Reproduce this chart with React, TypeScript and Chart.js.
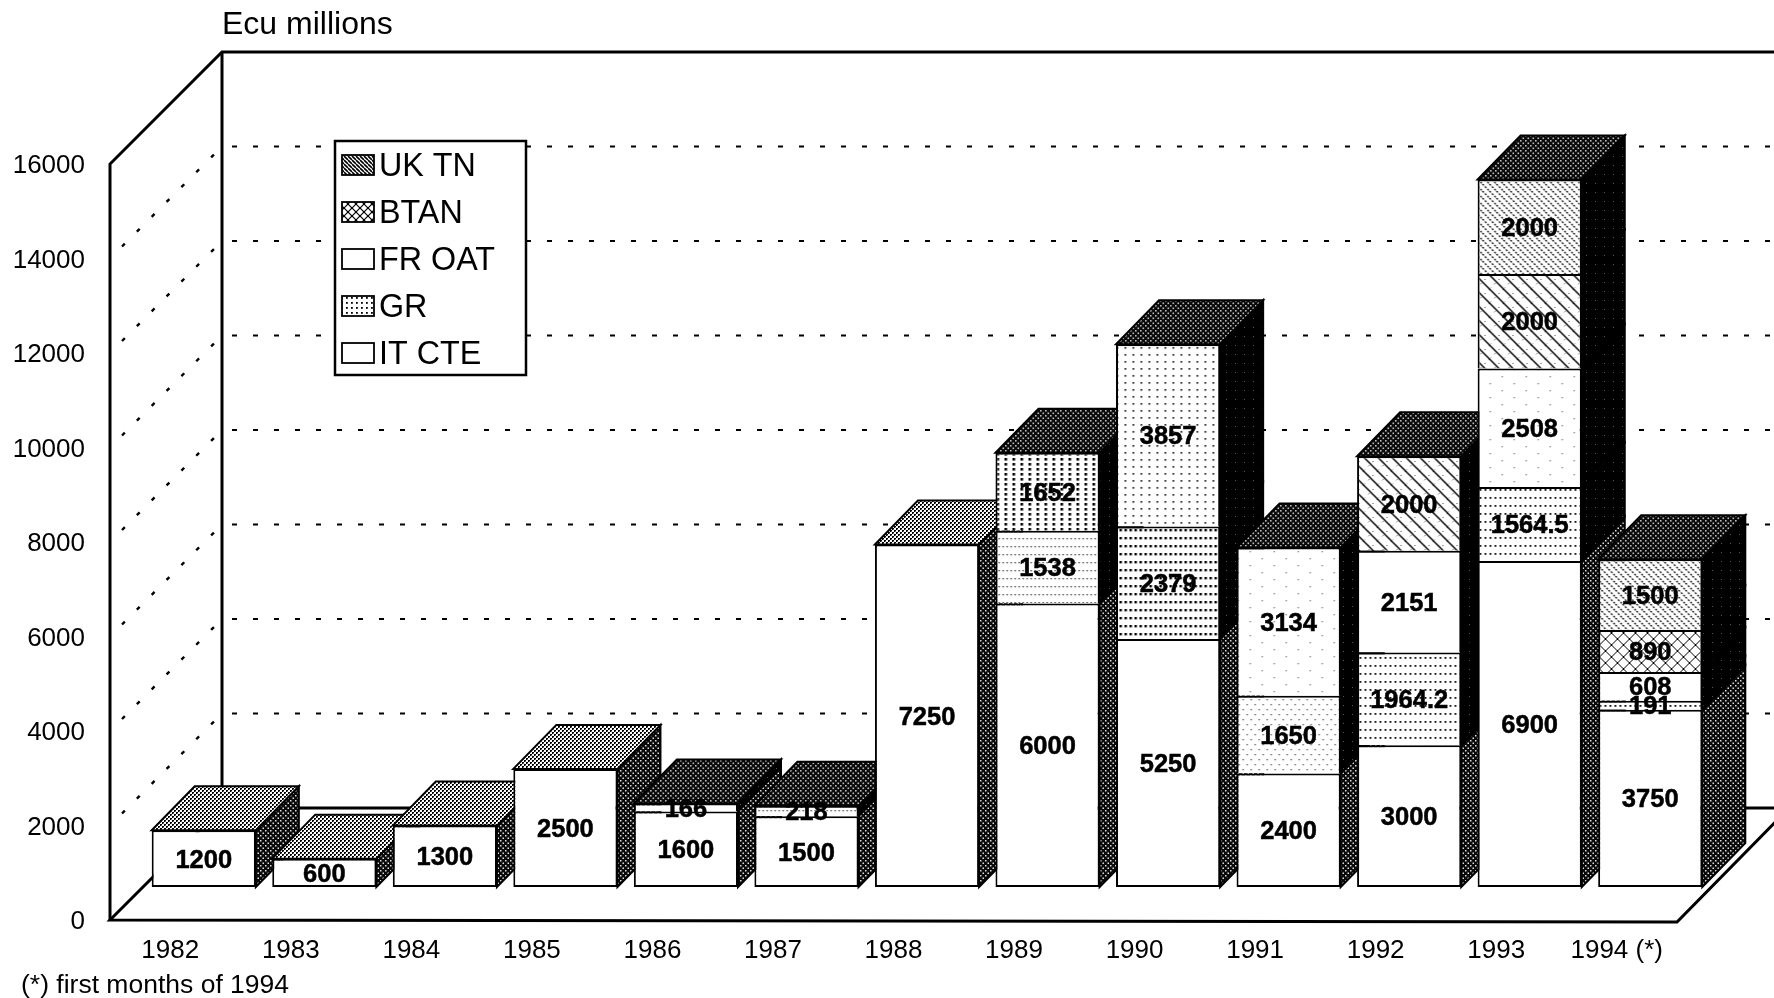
import React, { useEffect, useRef } from "react";
import { Chart, registerables } from "chart.js";

Chart.register(...registerables);

const years = ["1982","1983","1984","1985","1986","1987","1988","1989","1990","1991","1992","1993","1994 (*)"];
const itCte  = [1200, 600, 1300, 2500, 1600, 1500, 7250, 6000, 5250, 2400, 3000, 6900, 3750];
const gr     = [null, null, null, null, 166, 218, null, 1538, 2379, 1650, 1964.2, 1564.5, 191];
const frOat  = [null, null, null, null, null, null, null, 1652, 3857, 3134, 2151, 2508, 608];
const btan   = [null, null, null, null, null, null, null, null, null, null, 2000, 2000, 890];
const ukTn   = [null, null, null, null, null, null, null, null, null, null, null, 2000, 1500];
const legendOrder = ["UK TN", "BTAN", "FR OAT", "GR", "IT CTE"];
const yTicks = [0, 2000, 4000, 6000, 8000, 10000, 12000, 14000, 16000];

const FONT = '"Liberation Sans", Arial, sans-serif';
const WALL_DX = 112, WALL_DY = 112;   // depth of the box
const BAR_SX = 33.5, BAR_SY = -33;    // where the front of the bars sits within the box
const BAR_DX = 43, BAR_DY = 44;       // depth of each bar

function tile(w: number, h: number, draw: (c: CanvasRenderingContext2D) => void) {
  const cv = document.createElement("canvas");
  cv.width = w; cv.height = h;
  const c = cv.getContext("2d")!;
  c.fillStyle = "#fff"; c.fillRect(0, 0, w, h);
  c.fillStyle = "#000"; c.strokeStyle = "#000";
  draw(c);
  return c.createPattern(cv, "repeat")!;
}
const dots = (c: CanvasRenderingContext2D, list: number[][], s = 2, col = "#000") => {
  c.fillStyle = col;
  list.forEach(([x, y]) => c.fillRect(x, y, s, s));
};
function hatch(c: CanvasRenderingContext2D, p: number, w: number, dir = 1, dash: number[] = []) {
  c.lineWidth = w; c.setLineDash(dash);
  for (let o = -p; o <= p; o += p) {
    c.beginPath();
    if (dir > 0) { c.moveTo(o, 0); c.lineTo(o + p, p); }
    else { c.moveTo(o + p, 0); c.lineTo(o, p); }
    c.stroke();
  }
  c.setLineDash([]);
}

function makePatterns() {
  const white = "#ffffff";
  return {
    white,
    topLight: tile(4, 4, (c) => { c.fillStyle = "#000"; c.fillRect(0, 0, 2, 2); c.fillRect(2, 2, 2, 2); c.fillStyle = "#777"; c.fillRect(1, 1, 1, 1); c.fillRect(3, 3, 1, 1); }),
    topDark: tile(5, 5, (c) => { c.fillStyle = "#0a0a0a"; c.fillRect(0, 0, 5, 5); dots(c, [[0, 0], [2.5, 2.5]], 1.6, "#bbb"); }),
    sideLight: tile(5, 5, (c) => { c.fillStyle = "#0a0a0a"; c.fillRect(0, 0, 5, 5); dots(c, [[0, 0], [2.5, 2.5]], 1.5, "#ddd"); }),
    sideDark: tile(9, 9, (c) => { c.fillStyle = "#000"; c.fillRect(0, 0, 9, 9); dots(c, [[2, 3]], 1, "#555"); }),
    grStrong: tile(5, 8, (c) => dots(c, [[1, 2]], 2.4)),
    grMedium: tile(5, 8, (c) => dots(c, [[1, 2]], 1.8)),
    grFine: tile(4, 8, (c) => dots(c, [[1, 3]], 1.3, "#333")),
    grSparse: tile(8, 10, (c) => dots(c, [[1, 2], [5, 7]], 1.3, "#555")),
    frDense: tile(8, 5, (c) => dots(c, [[3, 1]], 2.6)),
    frMedium: tile(8, 7, (c) => dots(c, [[3, 2]], 1.7, "#222")),
    frSparse: tile(24, 14, (c) => dots(c, [[4, 3], [16, 10]], 1.3, "#777")),
    btanHatch: tile(14, 14, (c) => { hatch(c, 14, 1.4, 1); hatch(c, 14, 1, -1, [1, 5]); }),
    btanCross: tile(12, 12, (c) => { hatch(c, 12, 1, 1); hatch(c, 12, 1, -1); }),
    ukDense: tile(7, 7, (c) => { hatch(c, 7, 1.3, 1, [2, 1.5]); }),
    legendUk: tile(4, 4, (c) => { hatch(c, 4, 1.6, 1); }),
    legendBtan: tile(8, 8, (c) => { hatch(c, 8, 1.2, 1); hatch(c, 8, 1.2, -1); dots(c, [[3, 3]], 2); }),
    legendGr: tile(5, 5, (c) => dots(c, [[1, 2]], 1.8)),
  };
}

export default function App() {
  const ref = useRef<HTMLCanvasElement | null>(null);
  useEffect(() => {
    const P = makePatterns();
    const w = P.white;
    const grFills = [w, w, w, w, w, P.grFine, w, P.grFine, P.grStrong, P.grSparse, P.grMedium, P.grMedium, P.grMedium];
    const frFills = [w, w, w, w, w, w, w, P.frDense, P.frMedium, P.frSparse, w, P.frSparse, w];
    const btanFills = [w, w, w, w, w, w, w, w, w, w, P.btanHatch, P.btanHatch, P.btanCross];
    const ukFills = years.map(() => P.ukDense);

    const base = { borderColor: "#000", borderWidth: 2, borderSkipped: "start", clip: false as any, stack: "s" };
    const legendFill: Record<string, any> = {
      "UK TN": P.legendUk, BTAN: P.legendBtan, "FR OAT": w, GR: P.legendGr, "IT CTE": w,
    };

    const box3d = {
      id: "box3d",
      beforeDatasetsDraw(chart: any) {
        const { ctx, chartArea: a, scales } = chart;
        const y = scales.y;
        const y0 = y.getPixelForValue(0), yTop = y.getPixelForValue(16000);
        const bl = a.left + WALL_DX;
        const W = chart.width;
        ctx.save();

        // dotted grid lines on the back wall and the left wall
        ctx.strokeStyle = "#000"; ctx.lineCap = "butt";
        yTicks.filter((v) => v > 0 && v < 16000).forEach((v) => {
          const py = y.getPixelForValue(v);
          ctx.lineWidth = 2;
          ctx.setLineDash([5, 16]);
          ctx.beginPath(); ctx.moveTo(bl + 10, py - WALL_DY); ctx.lineTo(W, py - WALL_DY); ctx.stroke();
          ctx.lineWidth = 2.4;
          ctx.setLineDash([4, 17]);
          ctx.beginPath(); ctx.moveTo(a.left + 12, py - 12); ctx.lineTo(bl - 4, py - WALL_DY + 4); ctx.stroke();
        });
        ctx.setLineDash([]);

        // the walls and the floor
        ctx.lineWidth = 3; ctx.lineJoin = "miter";
        const seg = (pts: number[][]) => {
          ctx.beginPath();
          pts.forEach(([px, py], i) => (i ? ctx.lineTo(px, py) : ctx.moveTo(px, py)));
          ctx.stroke();
        };
        seg([[a.left, y0], [a.left, yTop], [bl, yTop - WALL_DY], [W, yTop - WALL_DY]]);
        seg([[bl, yTop - WALL_DY], [bl, y0 - WALL_DY]]);
        seg([[W, y0 - WALL_DY], [bl, y0 - WALL_DY], [a.left, y0], [a.right, y0 + 2], [a.right + WALL_DX, y0 - WALL_DY]]);

        // legend
        const lx = 335, ly = 141, lw = 191, lh = 234;
        ctx.fillStyle = "#fff"; ctx.fillRect(lx, ly, lw, lh);
        ctx.lineWidth = 2.5; ctx.strokeRect(lx, ly, lw, lh);
        ctx.font = `32.3px ${FONT}`; ctx.textBaseline = "middle"; ctx.textAlign = "left";
        legendOrder.forEach((name, i) => {
          const cy = ly + 24 + i * 47;
          ctx.fillStyle = legendFill[name];
          ctx.fillRect(342, cy - 10, 32, 20);
          ctx.lineWidth = 1.8; ctx.strokeRect(342, cy - 10, 32, 20);
          ctx.fillStyle = "#000";
          ctx.fillText(name, 379, cy + 2);
        });

        // texts around the plot
        ctx.font = `32px ${FONT}`;
        ctx.fillText("Ecu millions", 222, 25);
        ctx.font = `26.5px ${FONT}`;
        ctx.fillText("(*) first months of 1994", 21, 986);

        // the top and the right side of every bar, from left to right
        ctx.lineWidth = 2;
        const metas = chart.data.datasets.map((_: any, i: number) => chart.getDatasetMeta(i));
        years.forEach((_, j) => {
          let topEl: any = null, topIdx = 0;
          metas.forEach((m: any, i: number) => {
            const v = chart.data.datasets[i].data[j];
            if (v == null) return;
            const el = m.data[j];
            const r = el.x + el.width / 2 + BAR_SX;
            const t = el.y + BAR_SY, b = el.base + BAR_SY;
            ctx.beginPath();
            ctx.moveTo(r, t); ctx.lineTo(r + BAR_DX, t - BAR_DY);
            ctx.lineTo(r + BAR_DX, b - BAR_DY); ctx.lineTo(r, b); ctx.closePath();
            ctx.fillStyle = i === 0 ? P.sideLight : P.sideDark;
            ctx.fill();
            ctx.strokeStyle = "#000"; ctx.stroke();
            topEl = el; topIdx = i;
          });
          if (topEl) {
            const l = topEl.x - topEl.width / 2 + BAR_SX, r = topEl.x + topEl.width / 2 + BAR_SX;
            const t = topEl.y + BAR_SY;
            ctx.beginPath();
            ctx.moveTo(l, t); ctx.lineTo(l + BAR_DX, t - BAR_DY);
            ctx.lineTo(r + BAR_DX, t - BAR_DY); ctx.lineTo(r, t); ctx.closePath();
            ctx.fillStyle = topIdx === 0 ? P.topLight : P.topDark;
            ctx.fill();
            ctx.stroke();
          }
        });
        ctx.restore();

        // the library draws the front faces, shifted into the box
        ctx.save();
        ctx.translate(BAR_SX, BAR_SY);
      },
      afterDatasetsDraw(chart: any) {
        const { ctx } = chart;
        ctx.restore();
        ctx.save();
        ctx.fillStyle = "#000"; ctx.strokeStyle = "#000"; ctx.lineWidth = 0.5;
        ctx.font = `bold 25.5px ${FONT}`;
        ctx.textAlign = "center"; ctx.textBaseline = "middle";
        chart.data.datasets.forEach((ds: any, i: number) => {
          const m = chart.getDatasetMeta(i);
          ds.data.forEach((v: number | null, j: number) => {
            if (v == null) return;
            const el = m.data[j];
            const tx = el.x + BAR_SX, ty = (el.y + el.base) / 2 + BAR_SY + 2;
            ctx.fillText(String(v), tx, ty);
            ctx.strokeText(String(v), tx, ty);
          });
        });
        ctx.restore();
      },
    };

    const chart = new Chart(ref.current!, {
      type: "bar",
      data: {
        labels: years,
        datasets: [
          { ...base, borderSkipped: false, label: "IT CTE", data: itCte, backgroundColor: "#ffffff" },
          { ...base, label: "GR", data: gr, backgroundColor: grFills },
          { ...base, label: "FR OAT", data: frOat, backgroundColor: frFills },
          { ...base, label: "BTAN", data: btan, backgroundColor: btanFills },
          { ...base, label: "UK TN", data: ukTn, backgroundColor: ukFills },
        ] as any,
      },
      options: {
        animation: false,
        responsive: false,
        events: [],
        layout: { padding: { left: 0, top: 164, right: 97, bottom: 18 } },
        datasets: { bar: { barPercentage: 0.864, categoryPercentage: 1 } },
        plugins: { legend: { display: false }, tooltip: { enabled: false }, title: { display: false } },
        scales: {
          x: {
            stacked: true,
            grid: { display: false },
            border: { display: false },
            ticks: { color: "#000", font: { family: FONT, size: 26 }, padding: 7, maxRotation: 0, autoSkip: false },
            afterFit: (s: any) => { s.height = 60; },
          },
          y: {
            stacked: true,
            min: 0,
            max: 16000,
            grid: { display: false, drawTicks: false },
            border: { display: false },
            ticks: {
              color: "#000", font: { family: FONT, size: 26 }, padding: 25, stepSize: 2000, autoSkip: false,
              callback: (v: any) => String(v),
            },
            afterFit: (s: any) => {
              s.width = 110;
              if (!s.__nudged) {
                s.__nudged = true;
                const compute = s._computeLabelItems;
                s._computeLabelItems = function (area: any) {
                  return compute.call(this, area).map((it: any) => {
                    const tr = it.options && it.options.translation;
                    return tr ? { ...it, options: { ...it.options, translation: [tr[0], tr[1] + 2] } } : it;
                  });
                };
              }
            },
          },
        },
      } as any,
      plugins: [box3d],
    });
    return () => chart.destroy();
  }, []);
  return (
    <div style={{ position: "fixed", left: 0, top: 0, width: 1774, height: 998, background: "#fff" }}>
      <canvas ref={ref} width={1774} height={998} style={{ display: "block" }} />
    </div>
  );
}
